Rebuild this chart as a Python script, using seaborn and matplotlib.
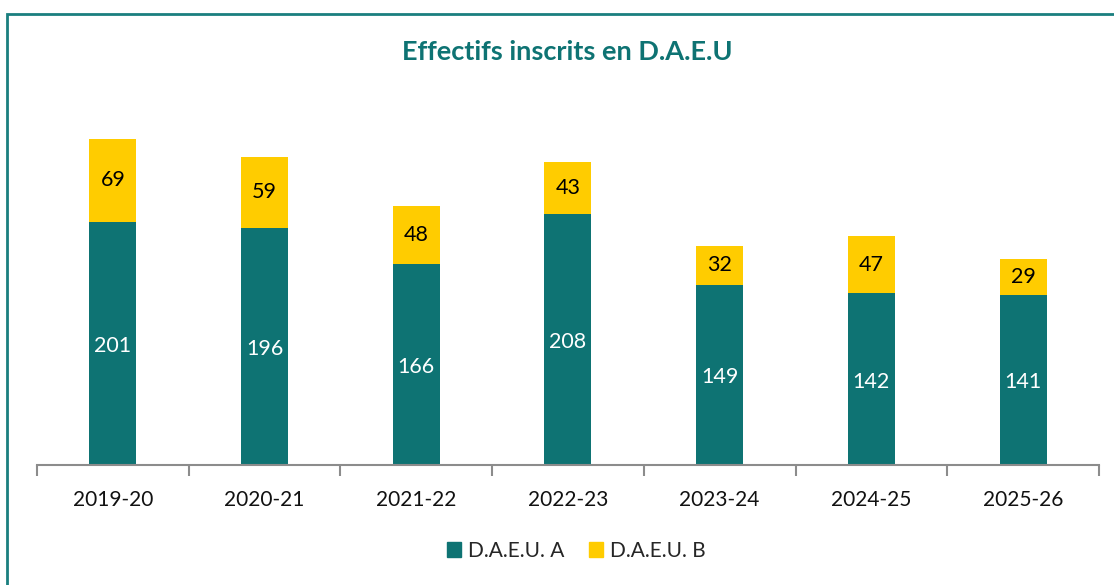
import matplotlib
matplotlib.use("Agg")
import matplotlib.pyplot as plt
import matplotlib.patches as mpatches
import pandas as pd
import seaborn as sns

# données
annees = ["2019-20", "2020-21", "2021-22", "2022-23", "2023-24", "2024-25", "2025-26"]
daeu_a = [201, 196, 166, 208, 149, 142, 141]
daeu_b = [69, 59, 48, 43, 32, 47, 29]

teal = "#0E7373"
jaune = "#FFCC00"

sns.set_theme(style="white")
plt.rcParams["font.family"] = ["Lato", "DejaVu Sans"]

df = pd.DataFrame({"annee": annees, "A": daeu_a, "B": daeu_b})
df["total"] = df["A"] + df["B"]

fig = plt.figure(figsize=(11.14, 5.85), dpi=100)
ax = fig.add_axes([0.0332, 0.2051, 0.9533, 0.6325])

# empilement : total en jaune, A en teal par-dessus
sns.barplot(data=df, x="annee", y="total", color=jaune, width=0.31, saturation=1,
            linewidth=0, ax=ax)
sns.barplot(data=df, x="annee", y="A", color=teal, width=0.31, saturation=1,
            linewidth=0, ax=ax)

for i, (a, b) in enumerate(zip(daeu_a, daeu_b)):
    ax.text(i, a / 2 - 2, str(a), ha="center", va="center", color="white", fontsize=15.5)
    ax.text(i, a + b / 2, str(b), ha="center", va="center", color="black", fontsize=15.5)

ax.set_xlim(-0.5, 6.5)
ax.set_ylim(0, 306)
ax.set_xlabel("")
ax.set_ylabel("")
ax.set_yticks([])
for s in ["top", "right", "left"]:
    ax.spines[s].set_visible(False)
ax.spines["bottom"].set_color("#8C8C8C")
ax.spines["bottom"].set_linewidth(1.5)
ax.set_xticks([x - 0.5 for x in range(8)], minor=True)
ax.tick_params(axis="x", which="minor", length=8, width=1.5, color="#8C8C8C", direction="out", bottom=True)
ax.tick_params(axis="x", which="major", length=0, labelsize=15, pad=18, labelcolor="#111111")

fig.text(567 / 1114, 1 - 52 / 585, "Effectifs inscrits en D.A.E.U", ha="center", va="center",
         fontsize=19.5, fontweight="bold", color=teal)

handles = [mpatches.Patch(color=teal, label="D.A.E.U. A"),
           mpatches.Patch(color=jaune, label="D.A.E.U. B")]
fig.legend(handles=handles, loc="center", bbox_to_anchor=(576 / 1114, 1 - 551 / 585), ncol=2,
           frameon=False, fontsize=15, handlelength=0.7, handleheight=0.7,
           handletextpad=0.3, columnspacing=1.2)

# cadre
fig.patches.append(mpatches.Rectangle((7 / 1114, -0.1), 1.2, 1 - 14 / 585 + 0.1,
                                      transform=fig.transFigure, fill=False,
                                      edgecolor="#1A7F7F", linewidth=2))

fig.savefig("out.png", dpi=100)
